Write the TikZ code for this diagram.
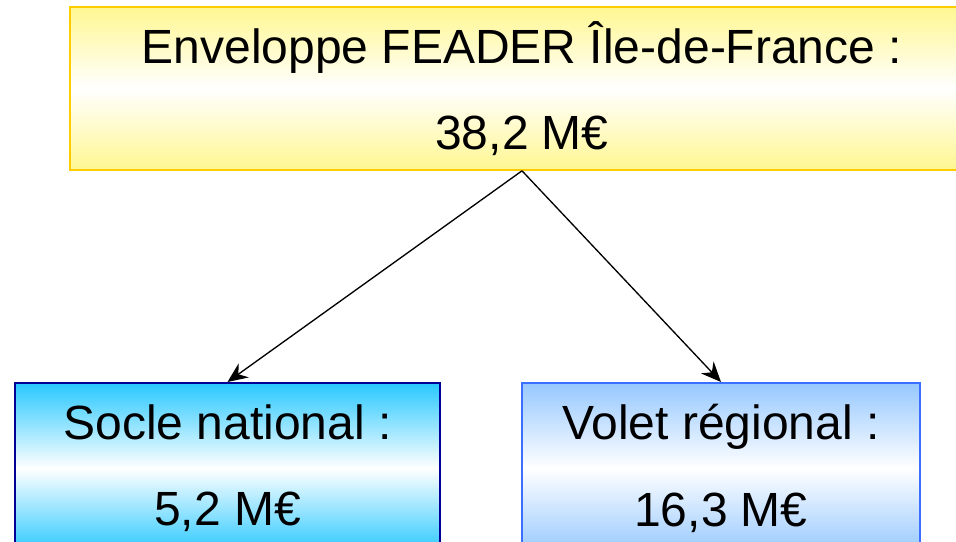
\documentclass[tikz,border=0pt]{standalone}
\usepackage{fontspec}
\setmainfont{Liberation Sans}
\usetikzlibrary{arrows.meta}

\definecolor{envyellow}{RGB}{255,247,145}
\definecolor{envgold}{RGB}{255,204,0}
\definecolor{soclecyan}{RGB}{40,200,255}
\definecolor{soclenavy}{RGB}{0,0,150}
\definecolor{voletblue}{RGB}{150,200,255}
\definecolor{voletedge}{RGB}{60,110,255}

\begin{document}
\begin{tikzpicture}[x=0.75pt, y=-0.75pt,
    every node/.style={font=\fontsize{36}{65}\selectfont, align=center, inner sep=0pt},
    envbox/.style={draw=envgold, line width=1.2pt, top color=envyellow, bottom color=envyellow, middle color=white},
    soclebox/.style={draw=soclenavy, line width=1.2pt, top color=soclecyan, bottom color=soclecyan, middle color=white},
    voletbox/.style={draw=voletedge, line width=1.2pt, top color=voletblue, bottom color=voletblue, middle color=white},
    fleche/.style={-{Stealth[length=15pt, width=13pt, inset=5pt]}, line width=1pt}]
    \useasboundingbox (0,0) rectangle (956,542);

    \node[envbox, minimum width=678pt, minimum height=122.25pt] (env) at (522,88.5)
        {Enveloppe FEADER Île-de-France :\\38,2 M€};
    \node[soclebox, anchor=north, minimum width=318.75pt, minimum height=128.25pt] (socle) at (227.5,382)
        {Socle national :\\5,2 M€};
    \node[voletbox, anchor=north, minimum width=298.5pt, minimum height=128.25pt] (volet) at (721,382)
        {Volet régional :\\16,3 M€};

    \draw[fleche] (env.south) -- (socle.north);
    \draw[fleche] (env.south) -- (volet.north);
\end{tikzpicture}
\end{document}
